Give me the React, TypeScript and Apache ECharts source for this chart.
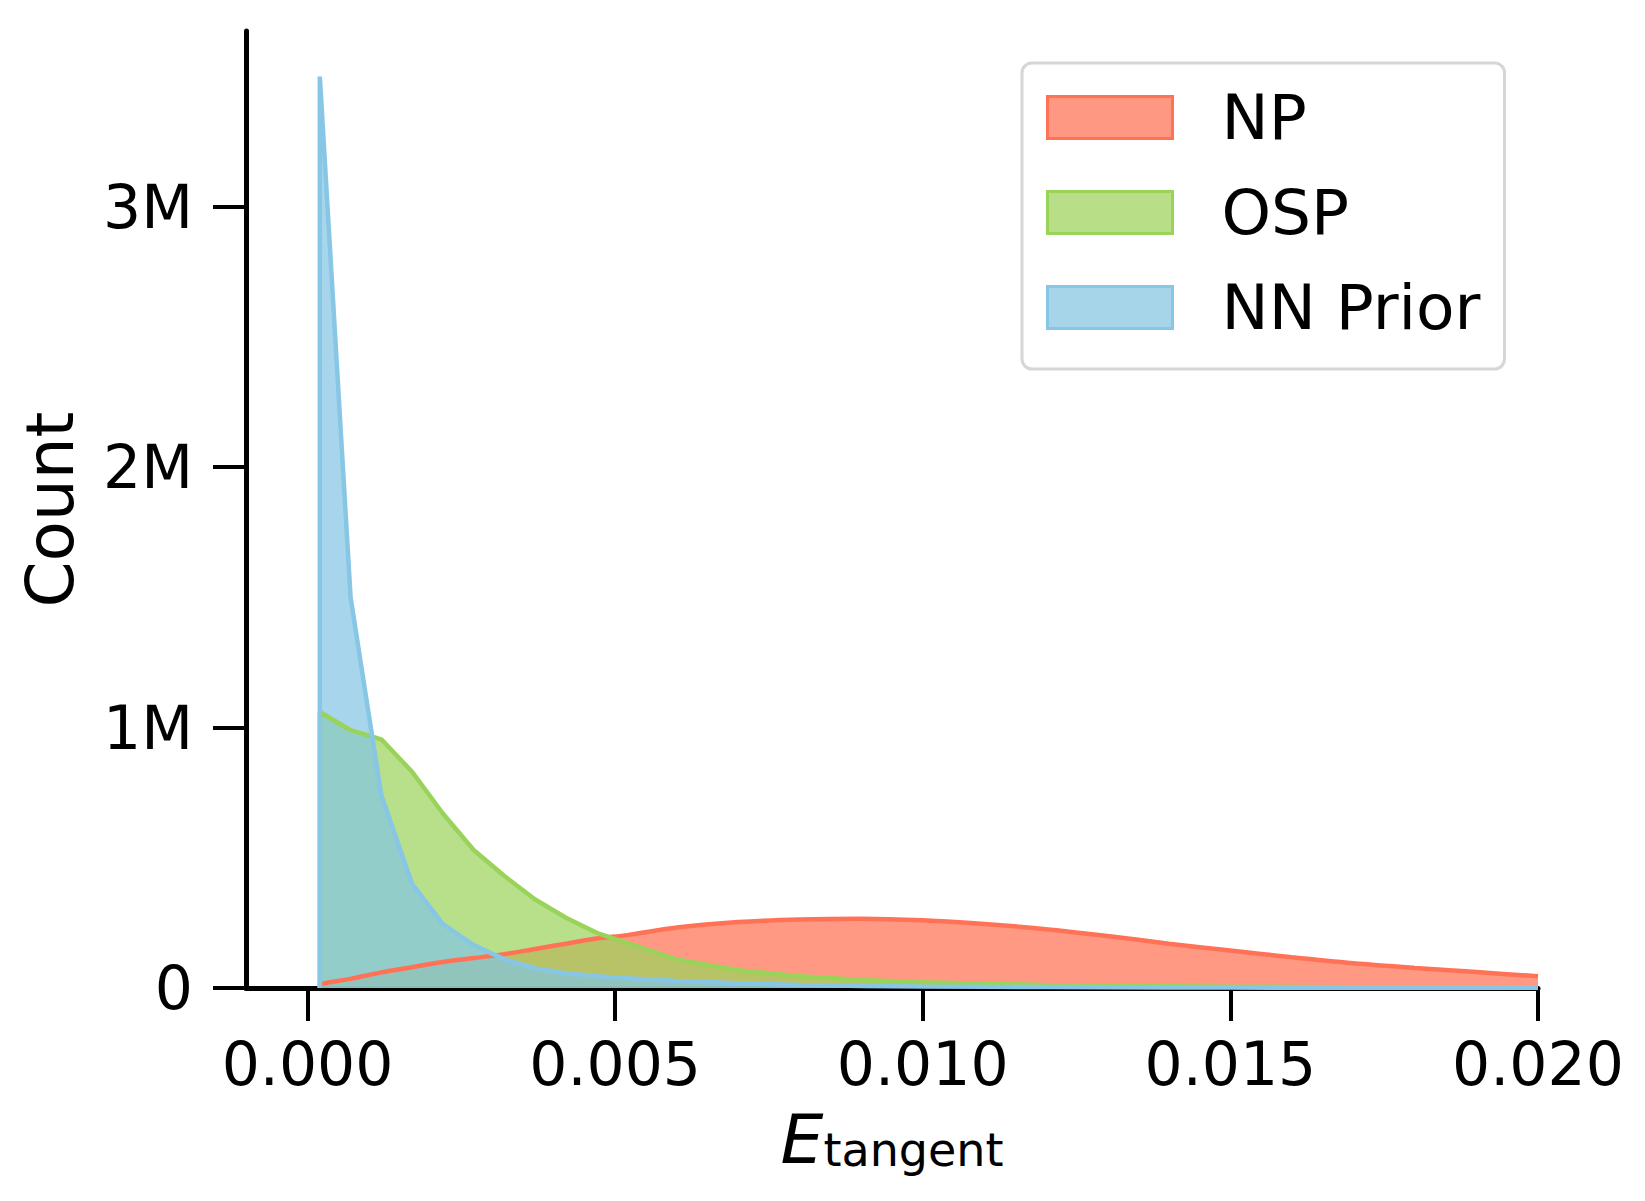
import React, { useEffect, useRef } from "react";
import * as echarts from "echarts";

// Bin centres of the histogram polygons (E_tangent)
const X_CENTERS = [
  0.0002, 0.0007, 0.0012, 0.0017, 0.0022, 0.0027, 0.0032, 0.0037, 0.0042, 0.0047,
  0.0052, 0.006, 0.007, 0.008, 0.009, 0.01, 0.011, 0.012, 0.013, 0.014,
  0.015, 0.016, 0.017, 0.018, 0.019, 0.02,
];

// Counts per bin
const NP_COUNTS = [
  10000, 35000, 60000, 80000, 100000, 115000, 130000, 150000, 170000, 190000,
  203000, 232000, 253000, 263000, 266000, 260000, 246000, 226000, 200000, 170000,
  144000, 118000, 95000, 77000, 61000, 45000,
];
const OSP_COUNTS = [
  1060000, 990000, 955000, 830000, 670000, 530000, 430000, 340000, 270000, 212000,
  172000, 110000, 68000, 45000, 31000, 22000, 16000, 12000, 9000, 7000,
  5000, 4000, 3000, 2000, 2000, 1000,
];
const NN_PRIOR_COUNTS = [
  3500000, 1500000, 740000, 400000, 245000, 165000, 110000, 75000, 57000, 45000,
  37000, 27000, 18000, 12000, 8000, 6000, 4500, 3500, 2500, 2000,
  1500, 1200, 1000, 1000, 1000, 1000,
];

const SERIES_NAMES = ["NP", "OSP", "NN Prior"];
const X_TICKS = [0, 0.005, 0.01, 0.015, 0.02];
const Y_TICKS = [0, 1000000, 2000000, 3000000];

const FONT = "DejaVu Sans";

const LINE_COLORS = ["#FF7256", "#9AD35A", "#87C6E5"];
const FILL_COLORS = ["rgba(255,110,80,0.7)", "rgba(154,211,90,0.7)", "rgba(130,196,228,0.7)"];
const PATCH_COLORS = ["#FE9882", "#B8DF88", "#A6D5EA"];
const SMOOTHING = [0.3, 0, 0];

function toPoints(values: number[]) {
  const pts: number[][] = [[X_CENTERS[0], 0]];
  X_CENTERS.forEach((x, i) => pts.push([x, values[i]]));
  return pts;
}

export default function App() {
  const ref = useRef<HTMLDivElement>(null);

  useEffect(() => {
    if (!ref.current) return;
    const chart = echarts.init(ref.current, null, { renderer: "svg" });
    const seriesValues = [NP_COUNTS, OSP_COUNTS, NN_PRIOR_COUNTS];

    chart.setOption({
      animation: false,
      backgroundColor: "#ffffff",
      grid: {
        left: 246,
        right: 107,
        top: 31,
        bottom: 213,
        containLabel: false,
        outerBoundsMode: "none",
      },
      xAxis: {
        type: "value",
        min: -0.001,
        max: 0.02,
        name: "{e|E}{s|tangent}",
        nameLocation: "middle",
        nameGap: 109,
        nameTextStyle: {
          rich: {
            e: {
              fontFamily: FONT,
              fontSize: 68,
              fontStyle: "italic",
              color: "#000",
              lineHeight: 76,
              verticalAlign: "bottom",
            },
            s: {
              fontFamily: FONT,
              fontSize: 46,
              color: "#000",
              lineHeight: 45,
              verticalAlign: "bottom",
            },
          },
        },
        axisLine: { show: true, onZero: false, lineStyle: { color: "#000", width: 5 } },
        axisTick: {
          show: true,
          length: 33,
          lineStyle: { color: "#000", width: 4 },
          customValues: X_TICKS,
        },
        axisLabel: {
          show: true,
          customValues: X_TICKS,
          margin: 46,
          fontFamily: FONT,
          fontSize: 60,
          lineHeight: 60,
          color: "#000",
          formatter: (v: number) => v.toFixed(3),
        },
        splitLine: { show: false },
      },
      yAxis: {
        type: "value",
        min: 0,
        max: 3675000,
        name: "Count",
        nameLocation: "middle",
        nameGap: 163,
        nameTextStyle: { fontFamily: FONT, fontSize: 66, lineHeight: 66, color: "#000" },
        axisLine: { show: true, onZero: false, lineStyle: { color: "#000", width: 5 } },
        axisTick: {
          show: true,
          length: 33,
          lineStyle: { color: "#000", width: 4 },
          customValues: Y_TICKS,
        },
        axisLabel: {
          show: true,
          customValues: Y_TICKS,
          margin: 53,
          fontFamily: FONT,
          fontSize: 60,
          color: "#000",
          formatter: (v: number) => (v === 0 ? "0" : `${Math.round(v / 1000000)}M`),
        },
        splitLine: { show: false },
      },
      legend: {
        orient: "vertical",
        left: 1022,
        top: 63,
        padding: [23, 24, 30, 24],
        itemWidth: 125,
        itemHeight: 42,
        itemGap: 32,
        borderColor: "#D6D6D6",
        borderWidth: 3,
        borderRadius: 10,
        backgroundColor: "#ffffff",
        selectedMode: false,
        textStyle: {
          fontFamily: FONT,
          fontSize: 63,
          color: "#000",
          padding: [0, 0, 0, 44],
        },
        data: SERIES_NAMES.map((name, i) => ({
          name,
          icon: "rect",
          itemStyle: {
            color: PATCH_COLORS[i],
            borderColor: LINE_COLORS[i],
            borderWidth: 3,
            opacity: 1,
          },
        })),
      },
      series: SERIES_NAMES.map((name, i) => ({
        name,
        type: "line",
        data: toPoints(seriesValues[i]),
        symbol: "none",
        smooth: SMOOTHING[i],
        clip: true,
        lineStyle: { color: LINE_COLORS[i], width: 4.5 },
        itemStyle: { color: LINE_COLORS[i] },
        areaStyle: { color: FILL_COLORS[i], opacity: 1, origin: "start" },
        emphasis: { disabled: true },
      })),
    });

    return () => chart.dispose();
  }, []);

  return (
    <div
      ref={ref}
      style={{ position: "absolute", left: 0, top: 0, width: 1645, height: 1201, background: "#fff" }}
    />
  );
}
